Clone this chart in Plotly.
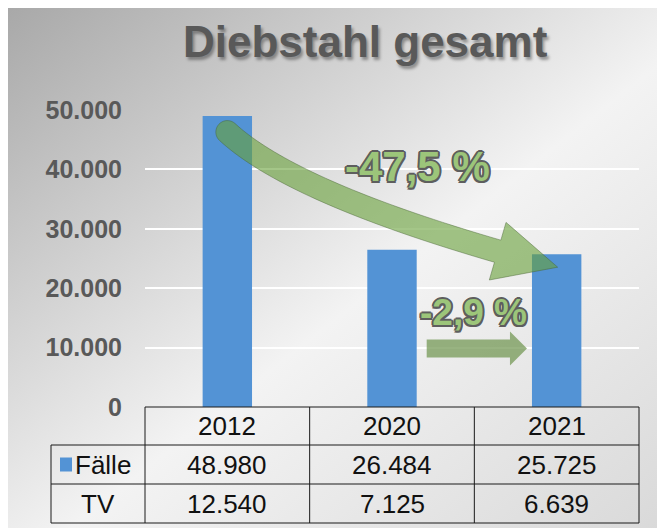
import base64
import math
import plotly.graph_objects as go

# ---------------- data ----------------
years = ["2012", "2020", "2021"]
faelle = [48980, 26484, 25725]
tv = [12540, 7125, 6639]
row_labels = ["Fälle", "TV"]
y_tickvals = [0, 10000, 20000, 30000, 40000, 50000]
y_ticktext = ["0", "10.000", "20.000", "30.000", "40.000", "50.000"]
change_total = "-47,5 %"
change_last = "-2,9 %"
title_text = "Diebstahl gesamt"

# ---------------- geometry (screen pixels; page has an 8px body margin) ----------------
OFF = 8
SCR_W, SCR_H = 665, 528
W, H = SCR_W - OFF, SCR_H - OFF
PLOT_L, PLOT_T, PLOT_W, PLOT_H = 145, 110, 494, 297
XMIN, XMAX, YMAX = -0.5, 2.5, 50000
FONT = "Liberation Sans, Arial, sans-serif"
BAR_COLOR = "#5393d5"


def fmt(v):
    return f"{v:,}".replace(",", ".")


def px(x):
    return PLOT_L + (x - XMIN) / (XMAX - XMIN) * PLOT_W


def py(y):
    return PLOT_T + PLOT_H * (1 - y / YMAX)


def to_data(X, Y):
    return XMIN + (X - PLOT_L) / PLOT_W * (XMAX - XMIN), YMAX * (1 - (Y - PLOT_T) / PLOT_H)


def pxp(X):  # screen pixel -> paper x
    return (X - PLOT_L) / PLOT_W


def pyp(Y):  # screen pixel -> paper y
    return (PLOT_T + PLOT_H - Y) / PLOT_H


def path_from_px(points):
    pts = [to_data(X, Y) for X, Y in points]
    return "M " + " L ".join(f"{x:.5f},{y:.2f}" for x, y in pts) + " Z"


# ---------------- background gradient (svg image) ----------------
bw, bh = SCR_W - 4, SCR_H - 8
svg = f'''<svg xmlns="http://www.w3.org/2000/svg" width="{bw}" height="{bh}" viewBox="0 0 {bw} {bh}" preserveAspectRatio="none">
<defs><linearGradient id="g" x1="0" y1="0" x2="1" y2="1">
<stop offset="0" stop-color="#a8a8a8"/>
<stop offset="0.55" stop-color="#f3f3f3"/>
<stop offset="1" stop-color="#d9d9d9"/>
</linearGradient></defs>
<rect width="{bw}" height="{bh}" fill="url(#g)"/></svg>'''
svg_uri = "data:image/svg+xml;base64," + base64.b64encode(svg.encode()).decode()

fig = go.Figure()
fig.add_trace(go.Bar(
    x=list(range(len(years))), y=faelle, width=0.3,
    marker=dict(color=BAR_COLOR, line=dict(width=0)),
    hoverinfo="skip", showlegend=False,
))

shapes = []
annotations = []

# ---------------- big curved arrow ----------------
P0 = (px(0), py(faelle[0]) + 16)
T = (px(2) + 1, py(faelle[2]) + 13)
B = (T[0] - 60, T[1] - 16)
P1 = (P0[0] + 0.24 * (B[0] - P0[0]), P0[1] + 0.5 * (B[1] - P0[1]))
HW, HEAD = 11.5, 30


def bez(t):
    a, b, c = (1 - t) ** 2, 2 * (1 - t) * t, t * t
    return (a * P0[0] + b * P1[0] + c * B[0], a * P0[1] + b * P1[1] + c * B[1])


def bezd(t):
    dx = 2 * (1 - t) * (P1[0] - P0[0]) + 2 * t * (B[0] - P1[0])
    dy = 2 * (1 - t) * (P1[1] - P0[1]) + 2 * t * (B[1] - P1[1])
    n = math.hypot(dx, dy)
    return dx / n, dy / n


N = 40
left, right = [], []
for i in range(N + 1):
    t = i / N
    p = bez(t)
    d = bezd(t)
    nrm = (-d[1], d[0])
    left.append((p[0] - nrm[0] * HW, p[1] - nrm[1] * HW))
    right.append((p[0] + nrm[0] * HW, p[1] + nrm[1] * HW))
dE = bezd(1)
nE = (-dE[1], dE[0])
head = [(B[0] - nE[0] * HEAD, B[1] - nE[1] * HEAD), T, (B[0] + nE[0] * HEAD, B[1] + nE[1] * HEAD)]
d0 = bezd(0)
n0 = (-d0[1], d0[0])
cap = []
for k in range(1, 20):
    th = math.pi * k / 20
    cap.append((P0[0] + HW * (math.cos(th) * n0[0] - math.sin(th) * d0[0]),
                P0[1] + HW * (math.cos(th) * n0[1] - math.sin(th) * d0[1])))
outline = left + head + right[::-1] + cap
shapes.append(dict(type="path", xref="x", yref="y", path=path_from_px(outline),
                   fillcolor="rgba(104,160,56,0.6)", line=dict(color="rgba(70,100,50,0.45)", width=1),
                   layer="above"))

# ---------------- small straight arrow ----------------
yc = py(10000) + 1
xs = px(1) + 0.3 * PLOT_W / 3 / 2 + 10
xt = px(2) - 0.3 * PLOT_W / 3 / 2 - 5
hb = xt - 17
small = [(xs, yc - 9), (hb, yc - 9), (hb, yc - 17), (xt, yc), (hb, yc + 17), (hb, yc + 9), (xs, yc + 9)]
shapes.append(dict(type="path", xref="x", yref="y", path=path_from_px(small),
                   fillcolor="rgba(112,150,80,0.72)", line=dict(width=0), layer="above"))

# ---------------- percentage labels ----------------
outline_shadow = ("-1.5px -1.5px 0 #5e5e5e, 1.5px -1.5px 0 #5e5e5e, -1.5px 1.5px 0 #5e5e5e, "
                  "1.5px 1.5px 0 #5e5e5e, 0 2px 0 #5e5e5e, 2px 0 0 #5e5e5e, -2px 0 0 #5e5e5e, 0 -2px 0 #5e5e5e")
annotations.append(dict(x=pxp(417), y=pyp(166), xref="paper", yref="paper", text=change_total,
                        showarrow=False, xanchor="center", yanchor="middle",
                        font=dict(family=FONT, size=42, color="#9cc57a", weight="bold",
                                  shadow=outline_shadow)))
annotations.append(dict(x=pxp(473), y=pyp(312), xref="paper", yref="paper", text=change_last,
                        showarrow=False, xanchor="center", yanchor="middle",
                        font=dict(family=FONT, size=37, color="#9cc57a", weight="bold",
                                  shadow=outline_shadow)))

# ---------------- title ----------------
annotations.append(dict(x=pxp(365.5), y=pyp(41), xref="paper", yref="paper", text=title_text,
                        showarrow=False, xanchor="center", yanchor="middle",
                        font=dict(family=FONT, size=44, color="#595959", weight="bold",
                                  shadow="2px 3px 3px rgba(0,0,0,0.35)")))

# ---------------- data table ----------------
LINE = dict(color="#1a1a1a", width=1)
row_y = [407, 445, 484, 523]
col_x = [px(-0.5), px(0.5), px(1.5), px(2.5)]
lab_x = 51
shapes.append(dict(type="line", xref="paper", yref="paper", x0=pxp(col_x[0]), x1=pxp(col_x[-1]),
                   y0=pyp(row_y[0]), y1=pyp(row_y[0]), line=LINE))
for ry in row_y[1:]:
    shapes.append(dict(type="line", xref="paper", yref="paper", x0=pxp(lab_x), x1=pxp(col_x[-1]),
                       y0=pyp(ry), y1=pyp(ry), line=LINE))
for cx in col_x:
    shapes.append(dict(type="line", xref="paper", yref="paper", x0=pxp(cx), x1=pxp(cx),
                       y0=pyp(row_y[0]), y1=pyp(row_y[-1]), line=LINE))
shapes.append(dict(type="line", xref="paper", yref="paper", x0=pxp(lab_x), x1=pxp(lab_x),
                   y0=pyp(row_y[1]), y1=pyp(row_y[-1]), line=LINE))

TFONT = dict(family=FONT, size=26, color="#111111")
for i, yr in enumerate(years):
    cx = px(i)
    for r, txt in enumerate([yr, fmt(faelle[i]), fmt(tv[i])]):
        cy = (row_y[r] + row_y[r + 1]) / 2
        annotations.append(dict(x=pxp(cx), y=pyp(cy), xref="paper", yref="paper", text=txt,
                                showarrow=False, xanchor="center", yanchor="middle", font=TFONT))
cy1 = (row_y[1] + row_y[2]) / 2
cy2 = (row_y[2] + row_y[3]) / 2
shapes.append(dict(type="rect", xref="paper", yref="paper", x0=pxp(60), x1=pxp(72),
                   y0=pyp(cy1 + 7), y1=pyp(cy1 - 7), fillcolor=BAR_COLOR, line=dict(width=0)))
annotations.append(dict(x=pxp(73), y=pyp(cy1), xref="paper", yref="paper", text=row_labels[0],
                        showarrow=False, xanchor="left", yanchor="middle", font=TFONT))
annotations.append(dict(x=pxp((lab_x + col_x[0]) / 2), y=pyp(cy2), xref="paper", yref="paper",
                        text=row_labels[1], showarrow=False, xanchor="center", yanchor="middle",
                        font=TFONT))

fig.update_layout(
    width=W, height=H,
    margin=dict(l=PLOT_L - OFF, r=SCR_W - PLOT_L - PLOT_W, t=PLOT_T - OFF,
                b=SCR_H - PLOT_T - PLOT_H, pad=0),
    paper_bgcolor="white", plot_bgcolor="rgba(0,0,0,0)",
    showlegend=False,
    xaxis=dict(range=[XMIN, XMAX], showgrid=False, zeroline=False, showticklabels=False,
               showline=False, fixedrange=True),
    yaxis=dict(range=[0, YMAX], tickvals=y_tickvals, ticktext=y_ticktext,
               showgrid=True, gridcolor="white", gridwidth=2, zeroline=False, showline=False,
               ticks="", ticklabelstandoff=22,
               tickfont=dict(family=FONT, size=25, color="#595959", weight="bold"),
               fixedrange=True),
    shapes=shapes,
    annotations=annotations,
    images=[dict(source=svg_uri, xref="paper", yref="paper", x=pxp(4), y=pyp(8),
                 sizex=bw / PLOT_W, sizey=bh / PLOT_H, xanchor="left", yanchor="top",
                 sizing="stretch", layer="below")],
)

fig.write_html("out.html", config={"displayModeBar": False})
